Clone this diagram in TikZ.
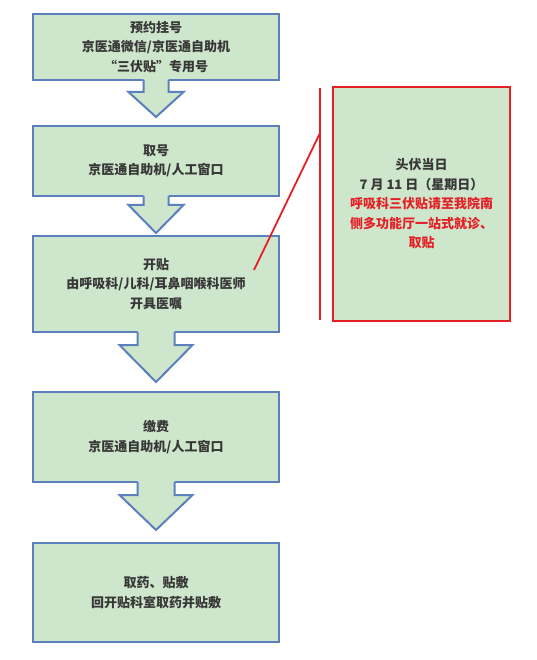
\documentclass[tikz,border=0pt]{standalone}
\usepackage{fontspec}
\setmainfont{Noto Sans CJK SC}
\usetikzlibrary{calc,backgrounds}
\definecolor{boxfill}{RGB}{206,230,203}
\definecolor{boxline}{RGB}{92,128,190}
\definecolor{redline}{RGB}{228,32,38}
\definecolor{txt}{RGB}{55,55,55}
\begin{document}
\begin{tikzpicture}[x=1pt,y=-1pt,
  flowbox/.style={draw=boxline,line width=2pt,fill=boxfill,minimum width=246pt,
    inner sep=0pt,outer sep=0pt,align=center,
    font=\fontsize{13}{19.5}\selectfont\bfseries,text=txt},
  notebox/.style={draw=redline,line width=2pt,fill=boxfill,minimum width=177pt,
    minimum height=234pt,inner sep=0pt,outer sep=0pt,align=center,
    font=\fontsize{13}{19.5}\selectfont\bfseries,text=txt},
  arrowfill/.style={fill=boxfill},
  arrowline/.style={draw=boxline,line width=2pt,line join=miter},
  redstroke/.style={draw=redline,line width=1.8pt}]
\useasboundingbox (0,0) rectangle (537,660);
\fill[white] (0,0) rectangle (537,660);

\node[flowbox,minimum height=66pt] (b1) at (156,47)
  {预约挂号\\京医通微信/京医通自助机\\“三伏贴”专用号};
\node[flowbox,minimum height=70pt] (b2) at (156,161)
  {取号\\京医通自助机/人工窗口};
\node[flowbox,minimum height=96pt] (b3) at (156,284)
  {开贴\\由呼吸科/儿科/耳鼻咽喉科医师\\开具医嘱};
\node[flowbox,minimum height=90pt] (b4) at (156,437)
  {缴费\\京医通自助机/人工窗口};
\node[flowbox,minimum height=99pt] (b5) at (156,592.5)
  {取药、贴敷\\回开贴科室取药并贴敷};

\node[notebox] (note) at (421.5,204)
  {头伏当日\\7 月 11 日（星期日）\\\textcolor{redline}{呼吸科三伏贴请至我院南}\\\textcolor{redline}{侧多功能厅一站式就诊、}\\\textcolor{redline}{取贴}};

% block arrows between boxes
\foreach \from/\to/\sh/\hd/\sy/\ty in {b1/b2/12.5/27.5/12/37, b2/b3/12.5/27.5/9/37, b3/b4/18.5/36.5/13/50, b4/b5/18.5/36.5/13/48}{
  \fill[arrowfill] ($(\from.south)+(-\sh,-1.2)$) -- ($(\from.south)+(-\sh,\sy)$)
    -- ($(\from.south)+(-\hd,\sy)$) -- ($(\from.south)+(0,\ty)$)
    -- ($(\from.south)+(\hd,\sy)$) -- ($(\from.south)+(\sh,\sy)$)
    -- ($(\from.south)+(\sh,-1.2)$) -- cycle;
  \draw[arrowline] ($(\from.south)+(-\sh,0)$) -- ($(\from.south)+(-\sh,\sy)$)
    -- ($(\from.south)+(-\hd,\sy)$) -- ($(\from.south)+(0,\ty)$)
    -- ($(\from.south)+(\hd,\sy)$) -- ($(\from.south)+(\sh,\sy)$)
    -- ($(\from.south)+(\sh,0)$);
}

% red bracket and pointer
\coordinate (vtop) at (320,88);
\coordinate (vbot) at (320,320);
\coordinate (vjoin) at (320,133);
\coordinate (ptr) at (254,270);
\draw[redstroke] (vtop) -- (vbot);
\draw[redstroke] (vjoin) -- (ptr);
\end{tikzpicture}
\end{document}
